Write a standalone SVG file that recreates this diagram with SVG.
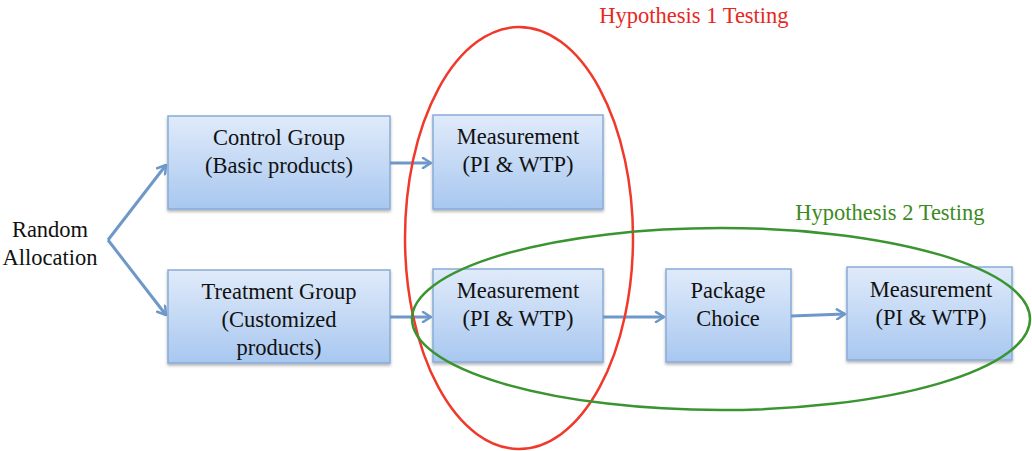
<svg xmlns="http://www.w3.org/2000/svg" width="1032" height="451" viewBox="0 0 1032 451">
<defs>
<linearGradient id="g" x1="0" y1="0" x2="0" y2="1">
<stop offset="0" stop-color="#e0ebfa"/>
<stop offset="1" stop-color="#a8c7f0"/>
</linearGradient>
<filter id="sh" x="-10%" y="-10%" width="120%" height="130%">
<feDropShadow dx="0" dy="2" stdDeviation="1.5" flood-color="#000" flood-opacity="0.3"/>
</filter>
<marker id="ah" viewBox="0 0 12 12" refX="10" refY="6" markerWidth="12" markerHeight="12" markerUnits="userSpaceOnUse" orient="auto">
<path d="M2,1 L10,6 L2,11" fill="none" stroke="#6d98c8" stroke-width="2.5" stroke-linecap="round" stroke-linejoin="round"/>
</marker>
</defs>
<style>
.box{fill:url(#g);stroke:#88acd8;stroke-width:1.5;filter:url(#sh)}
.t{font-family:"Liberation Serif","Times New Roman",serif;font-size:22.5px;fill:#111;text-anchor:middle}
.c{fill:none;stroke:#6d98c8;stroke-width:3;marker-end:url(#ah)}
.h{font-family:"Liberation Serif","Times New Roman",serif;font-size:22.5px;text-anchor:middle}
</style>
<rect width="1032" height="451" fill="#fff"/>
<g id="random">
<text class="t" x="50" y="237">Random</text>
<text class="t" x="50" y="265">Allocation</text>
</g>
<g id="control">
<rect class="box" x="168" y="116" width="222" height="93"/>
<text class="t" x="279" y="145">Control Group</text>
<text class="t" x="279" y="173">(Basic products)</text>
</g>
<g id="treatment">
<rect class="box" x="168" y="270" width="222" height="93"/>
<text class="t" x="279" y="299">Treatment Group</text>
<text class="t" x="279" y="327">(Customized</text>
<text class="t" x="279" y="355">products)</text>
</g>
<g id="meas1">
<rect class="box" x="433" y="115" width="170" height="94"/>
<text class="t" x="518" y="144">Measurement</text>
<text class="t" x="518" y="172">(PI &amp; WTP)</text>
</g>
<g id="meas2">
<rect class="box" x="433" y="269" width="170" height="93"/>
<text class="t" x="518" y="298">Measurement</text>
<text class="t" x="518" y="326">(PI &amp; WTP)</text>
</g>
<g id="package">
<rect class="box" x="666" y="269" width="125" height="93"/>
<text class="t" x="728" y="298">Package</text>
<text class="t" x="728" y="326">Choice</text>
</g>
<g id="meas3">
<rect class="box" x="847" y="267" width="165" height="93"/>
<text class="t" x="931" y="297">Measurement</text>
<text class="t" x="931" y="325">(PI &amp; WTP)</text>
</g>
<g id="connectors">
<path class="c" d="M108,240 L166,165"/>
<path class="c" d="M108,240 L166,315"/>
<path class="c" d="M390,163 L431,163"/>
<path class="c" d="M390,317 L431,317"/>
<path class="c" d="M603,317 L664,317"/>
<path class="c" d="M791,316 L845,314"/>
</g>
<g id="hyp1">
<ellipse cx="519" cy="238" rx="114" ry="211" fill="none" stroke="#f0392b" stroke-width="2.5"/>
<text class="h" x="694" y="23" fill="#e8271e">Hypothesis 1 Testing</text>
</g>
<g id="hyp2">
<ellipse cx="721" cy="319" rx="309" ry="91" fill="none" stroke="#3a9430" stroke-width="2.5"/>
<text class="h" x="890" y="220" fill="#3c8a22">Hypothesis 2 Testing</text>
</g>
</svg>
